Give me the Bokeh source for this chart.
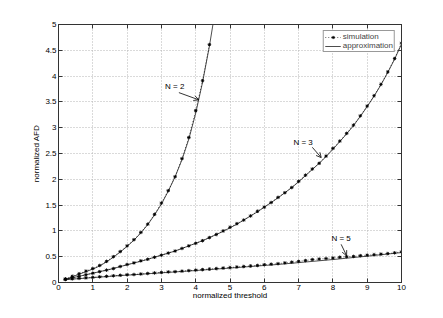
from bokeh.plotting import figure
from bokeh.models import (Range1d, FixedTicker, LinearAxis, CustomJSTickFormatter,
                          Legend, LegendItem, Label, Arrow, OpenHead)
from bokeh.embed import file_html
from bokeh.resources import INLINE

# ---------------- data ----------------
x_n2_sim = [0.2, 0.4, 0.6, 0.8, 1.0, 1.2, 1.4, 1.6, 1.8, 2.0, 2.2, 2.4, 2.6, 2.8, 3.0,
            3.2, 3.4, 3.6, 3.8, 4.0, 4.2, 4.4]
y_n2_sim = [0.07, 0.12, 0.17, 0.22, 0.27, 0.33, 0.41, 0.50, 0.60, 0.71, 0.83, 0.97, 1.13,
            1.32, 1.54, 1.78, 2.05, 2.40, 2.81, 3.33, 3.91, 4.61]
x_n2_apx = [0.2, 0.4, 0.6, 0.8, 1.0, 1.2, 1.4, 1.6, 1.8, 2.0, 2.2, 2.4, 2.6, 2.8, 3.0,
            3.2, 3.4, 3.6, 3.8, 4.0, 4.2, 4.4, 4.6]
y_n2_apx = [0.06, 0.11, 0.16, 0.21, 0.26, 0.32, 0.40, 0.49, 0.59, 0.70, 0.82, 0.96, 1.12,
            1.31, 1.52, 1.77, 2.05, 2.38, 2.78, 3.28, 3.88, 4.58, 5.40]

x_full = [0.2, 0.4, 0.6, 0.8, 1.0, 1.2, 1.4, 1.6, 1.8, 2.0, 2.2, 2.4, 2.6, 2.8, 3.0,
          3.2, 3.4, 3.6, 3.8, 4.0, 4.2, 4.4, 4.6, 4.8, 5.0, 5.2, 5.4, 5.6, 5.8, 6.0,
          6.2, 6.4, 6.6, 6.8, 7.0, 7.2, 7.4, 7.6, 7.8, 8.0, 8.2, 8.4, 8.6, 8.8, 9.0,
          9.2, 9.4, 9.6, 9.8, 10.0]
y_n3_sim = [0.06, 0.09, 0.12, 0.15, 0.18, 0.21, 0.24, 0.27, 0.31, 0.35, 0.38, 0.42, 0.45,
            0.49, 0.53, 0.57, 0.61, 0.66, 0.71, 0.76, 0.81, 0.87, 0.93, 1.00, 1.07, 1.14,
            1.21, 1.29, 1.38, 1.46, 1.55, 1.65, 1.74, 1.84, 1.96, 2.08, 2.20, 2.31, 2.45,
            2.60, 2.74, 2.89, 3.05, 3.23, 3.42, 3.62, 3.84, 4.08, 4.34, 4.64]
y_n3_apx = [0.06, 0.09, 0.12, 0.15, 0.18, 0.21, 0.24, 0.27, 0.31, 0.34, 0.38, 0.41, 0.45,
            0.49, 0.53, 0.57, 0.61, 0.66, 0.71, 0.76, 0.81, 0.87, 0.93, 0.99, 1.06, 1.13,
            1.21, 1.29, 1.37, 1.46, 1.55, 1.64, 1.74, 1.84, 1.95, 2.07, 2.19, 2.31, 2.44,
            2.58, 2.73, 2.88, 3.04, 3.22, 3.41, 3.61, 3.83, 4.07, 4.33, 4.62]
y_n5_sim = [0.06, 0.07, 0.08, 0.09, 0.10, 0.11, 0.12, 0.13, 0.14, 0.15, 0.155, 0.165, 0.175,
            0.185, 0.195, 0.205, 0.21, 0.22, 0.23, 0.24, 0.25, 0.26, 0.27, 0.28, 0.29, 0.30,
            0.31, 0.32, 0.33, 0.345, 0.355, 0.365, 0.38, 0.395, 0.41, 0.425, 0.445, 0.455,
            0.465, 0.475, 0.49, 0.50, 0.505, 0.52, 0.53, 0.54, 0.55, 0.56, 0.575, 0.595]
y_n5_apx = [0.055, 0.065, 0.075, 0.085, 0.095, 0.105, 0.115, 0.125, 0.135, 0.143, 0.15, 0.16,
            0.17, 0.178, 0.187, 0.196, 0.205, 0.214, 0.223, 0.232, 0.242, 0.251, 0.261, 0.27,
            0.28, 0.29, 0.30, 0.31, 0.32, 0.33, 0.34, 0.35, 0.362, 0.373, 0.385, 0.397,
            0.409, 0.421, 0.433, 0.445, 0.458, 0.471, 0.484, 0.497, 0.51, 0.524, 0.538,
            0.552, 0.566, 0.58]

x_ticks = [0, 1, 2, 3, 4, 5, 6, 7, 8, 9, 10]
y_ticks = [0, 0.5, 1, 1.5, 2, 2.5, 3, 3.5, 4, 4.5, 5]

FONT = "Liberation Sans"
FS = "8px"

p = figure(width=435, height=310, output_backend="svg", toolbar_location=None,
           x_range=Range1d(0, 10), y_range=Range1d(0, 5),
           min_border_left=58, min_border_right=34, min_border_top=24, min_border_bottom=28)
p.background_fill_color = "white"
p.border_fill_color = "white"
p.outline_line_color = "#333333"
p.outline_line_width = 1

fmt = CustomJSTickFormatter(code="return tick.toString();")
blank_fmt = CustomJSTickFormatter(code="return '';")

def style_axis(ax, ticks, show_labels=True):
    ax.ticker = FixedTicker(ticks=ticks)
    ax.formatter = fmt if show_labels else blank_fmt
    ax.major_tick_in = 4
    ax.major_tick_out = 0
    ax.minor_tick_in = 0
    ax.minor_tick_out = 0
    ax.axis_line_color = "#333333"
    ax.major_tick_line_color = "#333333"
    ax.major_label_text_font = FONT
    ax.major_label_text_font_size = FS
    ax.major_label_text_color = "black"
    ax.axis_label_text_font = FONT
    ax.axis_label_text_font_size = FS
    ax.axis_label_text_font_style = "normal"
    ax.axis_label_text_color = "black"

style_axis(p.xaxis[0], x_ticks)
style_axis(p.yaxis[0], y_ticks)
p.xaxis[0].axis_label = "normalized threshold"
p.yaxis[0].axis_label = "normalized AFD"
p.xaxis[0].major_label_standoff = 2
p.xaxis[0].axis_label_standoff = -2
p.yaxis[0].major_label_standoff = 2
p.yaxis[0].axis_label_standoff = 1

ax_top = LinearAxis()
style_axis(ax_top, x_ticks, show_labels=False)
ax_top.major_label_standoff = 0
p.add_layout(ax_top, "above")
ax_right = LinearAxis()
style_axis(ax_right, y_ticks, show_labels=False)
ax_right.major_label_standoff = 0
p.add_layout(ax_right, "right")

p.xgrid.ticker = FixedTicker(ticks=x_ticks)
p.ygrid.ticker = FixedTicker(ticks=y_ticks)
for g in (p.xgrid[0], p.ygrid[0]):
    g.grid_line_color = "#b4b4b4"
    g.grid_line_dash = "1 2"
    g.grid_line_width = 1

# curves
sim_lines, sim_marks, apx_lines = [], [], []
for xs, ys, xa, ya in [(x_n2_sim, y_n2_sim, x_n2_apx, y_n2_apx),
                       (x_full, y_n3_sim, x_full, y_n3_apx),
                       (x_full, y_n5_sim, x_full, y_n5_apx)]:
    apx_lines.append(p.line(xa, ya, line_color="black", line_width=0.7))
    sim_lines.append(p.line(xs, ys, line_color="black", line_width=0.6, line_dash="1 2"))
    sim_marks.append(p.scatter(xs, ys, marker="asterisk", size=3.5, line_color="black",
                               line_width=0.9))

legend = Legend(items=[
    LegendItem(label="simulation", renderers=[sim_lines[0], sim_marks[0]]),
    LegendItem(label="approximation", renderers=[apx_lines[0]]),
], location="top_right")
legend.label_text_font = FONT
legend.label_text_font_size = FS
legend.label_height = 8
legend.label_width = 10
legend.glyph_height = 8
legend.glyph_width = 16
legend.label_standoff = 2
legend.spacing = 0
legend.padding = 1
legend.margin = 6
legend.border_line_color = "#333333"
legend.border_line_width = 1
legend.background_fill_alpha = 1
p.add_layout(legend)

# annotations
labels = [("N = 2", 3.39, 3.79), ("N = 3", 7.13, 2.71), ("N = 5", 8.24, 0.86)]
arrows = [(3.51, 3.68, 4.09, 3.54), (7.40, 2.62, 7.66, 2.42), (8.24, 0.74, 8.40, 0.52)]
for t, lx, ly in labels:
    p.add_layout(Label(x=lx, y=ly, text=t, text_font=FONT, text_font_size=FS,
                       text_align="center", text_baseline="middle", text_color="black"))
for xs0, ys0, xe, ye in arrows:
    p.add_layout(Arrow(end=OpenHead(size=5, line_width=0.8, line_color="black"),
                       x_start=xs0, y_start=ys0, x_end=xe, y_end=ye,
                       line_width=0.8, line_color="black"))

open("out.html", "w").write(file_html(p, INLINE))
